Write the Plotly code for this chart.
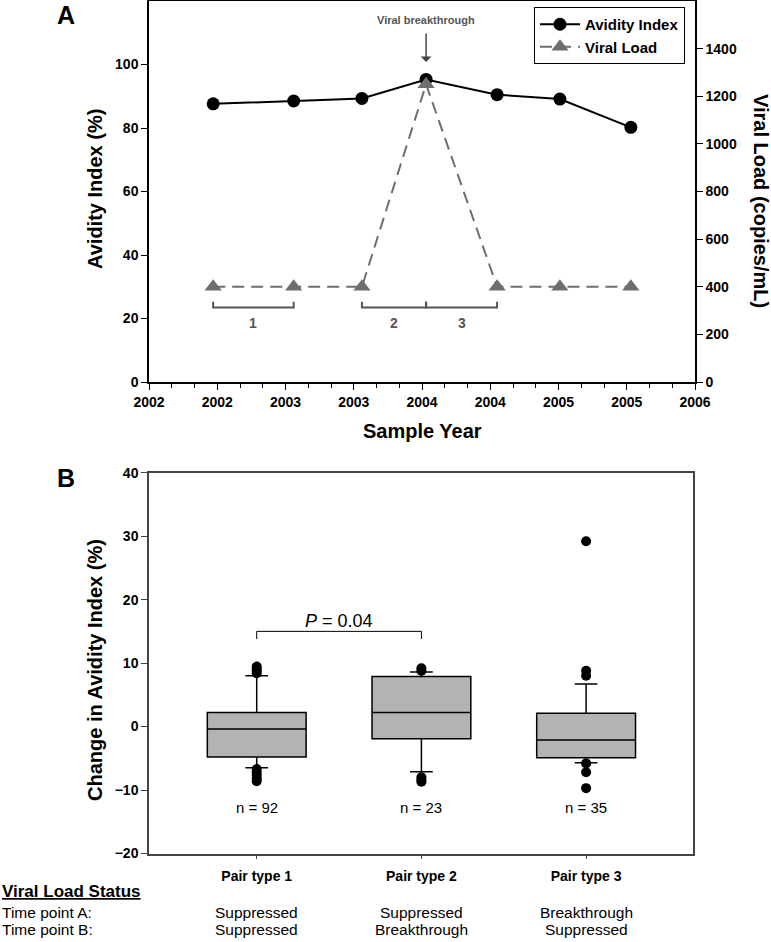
import plotly.graph_objects as go

# ---------------- Panel A data ----------------
sample_year = [2002.47, 2003.06, 2003.56, 2004.03, 2004.55, 2005.01, 2005.53]
avidity_index = [87.6, 88.5, 89.3, 95.3, 90.5, 89.1, 80.2]
viral_load = [400, 400, 400, 1250, 400, 400, 400]
year_tickvals = [2002, 2002.5, 2003, 2003.5, 2004, 2004.5, 2005, 2005.5, 2006]
year_ticktext = ["2002", "2002", "2003", "2003", "2004", "2004", "2005", "2005", "2006"]
avidity_ticks = [0, 20, 40, 60, 80, 100]
vl_ticks = [0, 200, 400, 600, 800, 1000, 1200, 1400]
bracket_pairs = [(0, 1), (2, 3), (3, 4)]
bracket_labels = ["1", "2", "3"]

# ---------------- Panel B data ----------------
pair_types = ["Pair type 1", "Pair type 2", "Pair type 3"]
q1 = [-4.8, -1.9, -4.9]
median = [-0.4, 2.2, -2.1]
q3 = [2.2, 7.9, 2.1]
lowerfence = [-6.5, -7.1, -5.7]
upperfence = [8.0, 8.6, 6.7]
outliers = [
    [8.4, 8.8, 9.1, 9.45, -6.7, -7.2, -7.7, -8.2, -8.6],
    [8.8, 9.2, -8.0, -8.4, -8.7],
    [29.2, 8.8, 8.0, -5.8, -7.2, -9.7],
]
n_labels = ["n = 92", "n = 23", "n = 35"]
change_ticks = [-20, -10, 0, 10, 20, 30, 40]
status_a = ["Suppressed", "Suppressed", "Breakthrough"]
status_b = ["Suppressed", "Breakthrough", "Suppressed"]

W, H = 771, 942
FONT = "Liberation Sans, Arial, sans-serif"


def px(x):
    return x / W


def py(y):
    return 1 - y / H


fig = go.Figure()

fig.add_trace(go.Scatter(
    x=sample_year, y=avidity_index, name="Avidity Index", mode="lines+markers",
    line=dict(color="black", width=2), marker=dict(color="black", size=13, symbol="circle"),
    xaxis="x", yaxis="y"))
fig.add_trace(go.Scatter(
    x=sample_year, y=viral_load, name="Viral Load", mode="lines+markers",
    line=dict(color="#6e6e6e", width=2, dash="12px,7px"),
    marker=dict(color="#6e6e6e", size=15, symbol="triangle-up"),
    xaxis="x", yaxis="y2"))

cat_x = list(range(len(pair_types)))
fig.add_trace(go.Box(
    x=cat_x, q1=q1, median=median, q3=q3, lowerfence=lowerfence, upperfence=upperfence,
    width=0.6, whiskerwidth=0.23, fillcolor="#b3b3b3",
    line=dict(color="black", width=1.5), boxpoints=False, showlegend=False,
    xaxis="x2", yaxis="y3", hoverinfo="skip"))

ox, oy = [], []
for i, vals in enumerate(outliers):
    for v in vals:
        ox.append(cat_x[i])
        oy.append(v)
fig.add_trace(go.Scatter(
    x=ox, y=oy, mode="markers", marker=dict(color="black", size=10),
    showlegend=False, xaxis="x2", yaxis="y3"))

tickfont = dict(family=FONT, size=14, color="black", weight="bold")

fig.update_layout(
    width=W, height=H, margin=dict(l=0, r=0, t=0, b=0, pad=0, autoexpand=False),
    paper_bgcolor="white", plot_bgcolor="white",
    font=dict(family=FONT, color="black"),
    showlegend=True,
    legend=dict(x=px(534), y=py(7), xanchor="left", yanchor="top",
                bordercolor="black", borderwidth=1, bgcolor="white",
                font=dict(family=FONT, size=15, weight="bold"),
                itemwidth=40, tracegroupgap=0),
    xaxis=dict(domain=[px(149), px(695)], anchor="y", range=[2002, 2006], automargin=False,
               tickmode="array", tickvals=year_tickvals, ticktext=year_ticktext,
               ticks="outside", ticklen=6, tickwidth=1, tickcolor="black",
               minor=dict(tick0=2002, dtick=1 / 6, ticks="outside", ticklen=4, tickcolor="black"),
               showline=True, linecolor="black", linewidth=1.5, mirror=True,
               showgrid=False, zeroline=False, tickfont=tickfont),
    yaxis=dict(domain=[py(382), py(1)], anchor="x", range=[0, 120], automargin=False,
               tickmode="array", tickvals=avidity_ticks,
               ticks="outside", ticklen=6, tickcolor="black",
               showline=True, linecolor="black", linewidth=1.5,
               showgrid=False, zeroline=False, tickfont=tickfont),
    yaxis2=dict(overlaying="y", side="right", anchor="x", range=[0, 1600], automargin=False,
                tickmode="array", tickvals=vl_ticks,
                ticks="outside", ticklen=6, tickcolor="black",
                showline=True, linecolor="black", linewidth=1.5,
                showgrid=False, zeroline=False, tickfont=tickfont),
    xaxis2=dict(domain=[px(149), px(693)], anchor="y3", range=[-0.654, 2.649], automargin=False,
                tickmode="array", tickvals=cat_x, ticktext=pair_types,
                ticks="outside", ticklen=4, tickcolor="#444",
                showline=True, linecolor="#444", linewidth=1.5, mirror=True,
                showgrid=False, zeroline=False, ticklabelstandoff=5,
                tickfont=dict(family=FONT, size=14, color="black", weight="bold")),
    yaxis3=dict(domain=[py(853.5), py(472.7)], anchor="x2", range=[-20, 40], automargin=False,
                tickmode="array", tickvals=change_ticks,
                ticks="outside", ticklen=6, tickcolor="#444",
                showline=True, linecolor="#444", linewidth=1.5, mirror=True,
                showgrid=False, zeroline=False, tickfont=tickfont),
)

shapes = []
# brackets in panel A
for (a, b) in bracket_pairs:
    x0, x1 = sample_year[a], sample_year[b]
    shapes.append(dict(type="path", xref="x", yref="y",
                       path=f"M {x0},25.3 L {x0},23.5 L {x1},23.5 L {x1},25.3",
                       line=dict(color="#555", width=2)))
# P-value bracket in panel B
shapes.append(dict(type="path", xref="x2", yref="y3",
                   path=f"M {cat_x[0]},13.8 L {cat_x[0]},15 L {cat_x[1]},15 L {cat_x[1]},13.8",
                   line=dict(color="black", width=1)))
fig.update_layout(shapes=shapes)


def A(**kw):
    d = dict(showarrow=False, xanchor="center", yanchor="middle")
    d.update(kw)
    return d


ann = []
ann.append(A(text="A", x=px(66), y=py(15), xref="paper", yref="paper",
             font=dict(size=25, weight="bold")))
ann.append(A(text="B", x=px(66), y=py(478), xref="paper", yref="paper",
             font=dict(size=25, weight="bold")))
ann.append(A(text="Avidity Index (%)", x=px(95), y=py(189), xref="paper", yref="paper",
             textangle=-90, font=dict(size=20, weight="bold")))
ann.append(A(text="Viral Load (copies/mL)", x=px(761), y=py(201), xref="paper", yref="paper",
             textangle=90, font=dict(size=20, weight="bold")))
ann.append(A(text="Sample Year", x=px(422), y=py(431), xref="paper", yref="paper",
             font=dict(size=20, weight="bold")))
ann.append(A(text="Viral breakthrough", x=sample_year[3], y=py(20), xref="x", yref="paper",
             font=dict(size=11, weight="bold", color="#555")))
ann.append(dict(text="", x=sample_year[3], y=py(62), xref="x", yref="paper",
                ax=0, ay=-30, showarrow=True, arrowhead=1, arrowsize=1.2,
                arrowwidth=1.5, arrowcolor="#444"))
for (a, b), lab in zip(bracket_pairs, bracket_labels):
    ann.append(A(text=lab, x=(sample_year[a] + sample_year[b]) / 2, y=18.6,
                 xref="x", yref="y", font=dict(size=14, weight="bold", color="#555")))
# Panel B annotations
ann.append(A(text="Change in Avidity Index (%)", x=px(95), y=py(670), xref="paper",
             yref="paper", textangle=-90, font=dict(size=20, weight="bold")))
ann.append(A(text="<i>P</i> = 0.04", x=(cat_x[0] + cat_x[1]) / 2, y=16.7, xref="x2",
             yref="y3", font=dict(size=18)))
for i, lab in enumerate(n_labels):
    ann.append(A(text=lab, x=cat_x[i], y=-12.7, xref="x2", yref="y3", font=dict(size=15)))
ann.append(A(text="<u>Viral Load Status</u>", x=0, y=py(891), xref="paper", yref="paper",
             xanchor="left", font=dict(size=17, weight="bold")))
ann.append(A(text="Time point A:", x=0, y=py(912), xref="paper", yref="paper",
             xanchor="left", font=dict(size=15.5)))
ann.append(A(text="Time point B:", x=0, y=py(929), xref="paper", yref="paper",
             xanchor="left", font=dict(size=15.5)))
for i in range(len(pair_types)):
    ann.append(A(text=status_a[i], x=cat_x[i], y=py(912), xref="x2", yref="paper",
                 font=dict(size=15.5)))
    ann.append(A(text=status_b[i], x=cat_x[i], y=py(929), xref="x2", yref="paper",
                 font=dict(size=15.5)))
fig.update_layout(annotations=ann)

fig.write_html("out.html", config={"displayModeBar": False},
               post_script="document.body.style.margin='0px';")
